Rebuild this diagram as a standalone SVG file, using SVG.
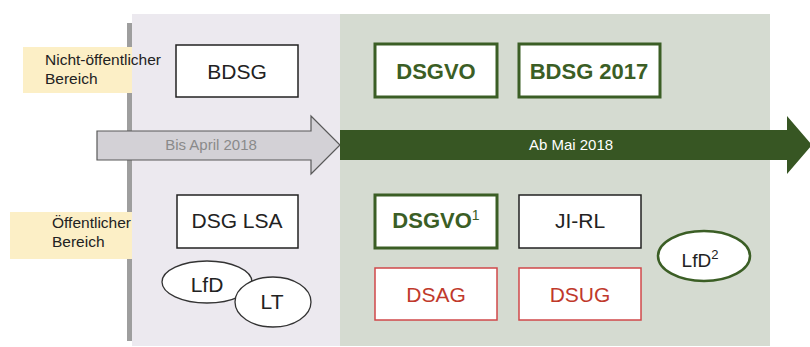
<svg xmlns="http://www.w3.org/2000/svg" width="810" height="347" viewBox="0 0 810 347">
<style>
text{font-family:"Liberation Sans",Arial,sans-serif}
.box{fill:#fff}
.g{stroke:#3b5e25;stroke-width:3}
.k{stroke:#222;stroke-width:1.5}
.r{stroke:#d0484a;stroke-width:1.5}
.lbl{font-size:15.5px;fill:#222}
.big{font-size:21px;fill:#222;text-anchor:middle}
.bold{font-size:22px;font-weight:bold;fill:#3b5e25;text-anchor:middle}
.red{font-size:21px;fill:#c0392b;text-anchor:middle}
</style>
<rect width="810" height="347" fill="#fff"/>
<g id="panels">
<rect x="132" y="14" width="208" height="332" fill="#ece9ef"/>
<rect x="340" y="14" width="430" height="332" fill="#d5dbd1"/>
<rect x="127" y="23" width="5" height="318" fill="#9e9e9e"/>
</g>
<g id="label-nicht">
<rect x="23" y="47" width="109" height="46" fill="#fcefc6"/>
<text class="lbl" x="45" y="65">Nicht-öffentlicher</text>
<text class="lbl" x="45" y="84">Bereich</text>
</g>
<g id="label-oeff">
<rect x="10" y="212" width="122" height="47" fill="#fcefc6"/>
<text class="lbl" x="52" y="228">Öffentlicher</text>
<text class="lbl" x="52" y="247">Bereich</text>
</g>
<g id="connectors">
<g id="arrow-bis">
<polygon points="97,131 311,131 311,116 340,145 311,174 311,160 97,160" fill="#d3d1d6" stroke="#595959" stroke-width="1.2"/>
<text x="211" y="150" font-size="15" fill="#8a8a8a" text-anchor="middle">Bis April 2018</text>
</g>
<g id="arrow-ab">
<polygon points="340,130 787,130 787,116 812,145 787,174 787,160 340,160" fill="#375623"/>
<text x="571" y="150" font-size="15" fill="#fff" text-anchor="middle">Ab Mai 2018</text>
</g>
</g>
<g id="bdsg"><rect class="box k" x="176" y="45" width="122" height="52" stroke-width="1.5" stroke="#222"/><text class="big" x="237" y="79">BDSG</text></g>
<g id="dsgvo"><rect class="box g" x="375" y="44" width="122" height="53"/><text class="bold" x="436" y="79">DSGVO</text></g>
<g id="bdsg2017"><rect class="box g" x="519" y="44" width="141" height="53"/><text class="bold" x="589" y="79">BDSG 2017</text></g>
<g id="dsglsa"><rect class="box k" x="177" y="195" width="121" height="53"/><text class="big" x="237" y="228">DSG LSA</text></g>
<g id="lfd"><ellipse cx="207" cy="282" rx="45" ry="21" fill="#fff" stroke="#333" stroke-width="1.3"/><text class="big" x="207" y="292">LfD</text></g>
<g id="lt"><ellipse cx="273" cy="302" rx="38" ry="25" fill="#fff" stroke="#333" stroke-width="1.3"/><text class="big" x="272" y="309">LT</text></g>
<g id="dsgvo1"><rect class="box g" x="375" y="195" width="122" height="53"/><text class="bold" x="436" y="228">DSGVO<tspan font-size="14" font-weight="normal" dy="-8">1</tspan></text></g>
<g id="jirl"><rect class="box k" x="519" y="195" width="122" height="53"/><text class="big" x="580" y="228">JI-RL</text></g>
<g id="dsag"><rect class="box r" x="375" y="268" width="122" height="52"/><text class="red" x="436" y="302">DSAG</text></g>
<g id="dsug"><rect class="box r" x="519" y="268" width="122" height="52"/><text class="red" x="580" y="302">DSUG</text></g>
<g id="lfd2"><ellipse cx="704" cy="256" rx="46" ry="25" fill="#fff" stroke="#3b5e25" stroke-width="2.5"/><text x="700" y="267" font-size="19" fill="#222" text-anchor="middle">LfD<tspan font-size="13" dy="-8">2</tspan></text></g>
</svg>
